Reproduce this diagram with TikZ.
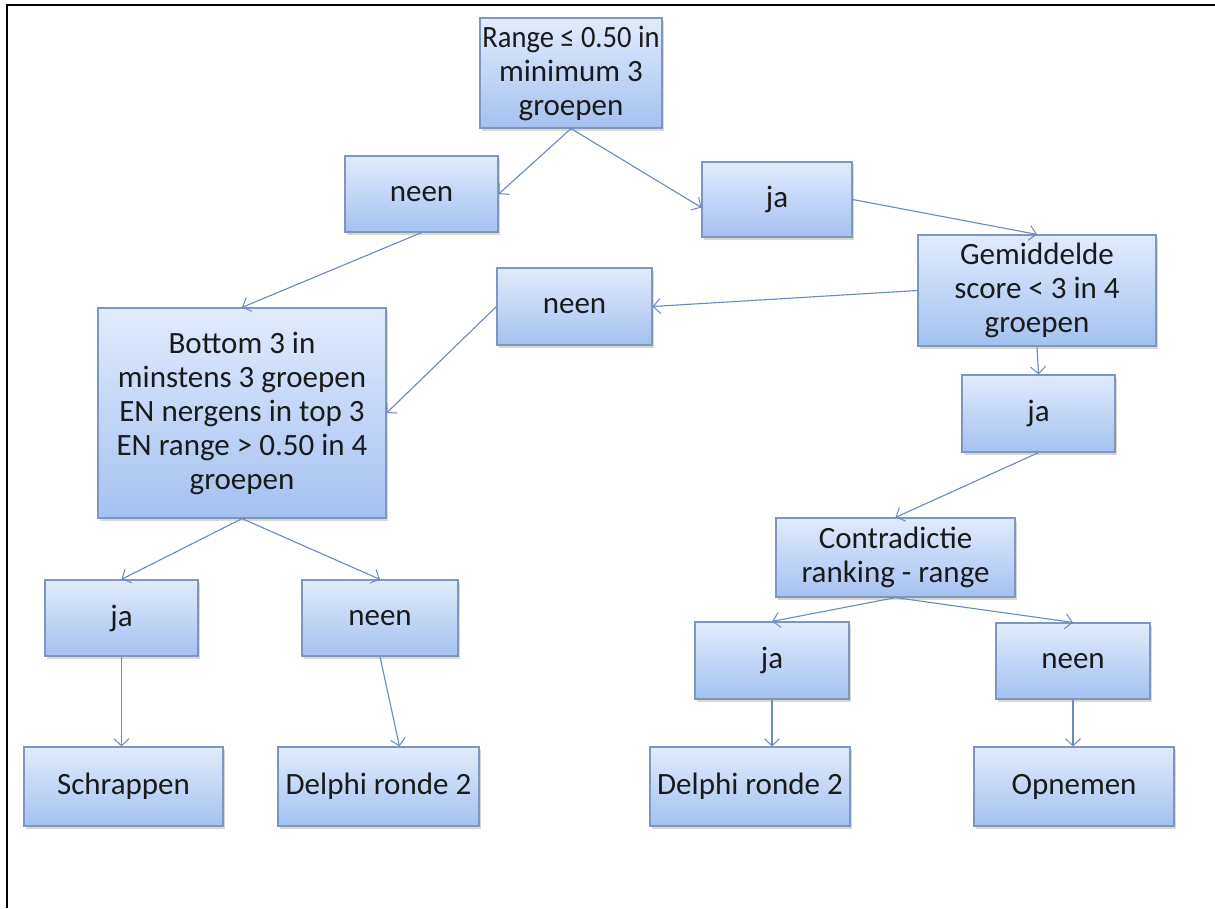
\documentclass[tikz,border=0pt]{standalone}
\usepackage{fontspec}
\usepackage{graphicx}
\setmainfont{Carlito}
\usetikzlibrary{arrows.meta,shadows,calc}
\definecolor{boxtop}{HTML}{E2EBFC}
\definecolor{boxbot}{HTML}{A4C1F1}
\definecolor{boxline}{HTML}{7F97BC}
\definecolor{arr}{HTML}{6A8BBE}
\definecolor{txt}{HTML}{1A1A1A}
\tikzset{
  box/.style={rectangle, draw=boxline, line width=1.2pt, top color=boxtop, bottom color=boxbot,
    align=center, text=txt, inner sep=0pt,
    font=\fontsize{31}{34}\selectfont,
    drop shadow={opacity=0.3, shadow xshift=2pt, shadow yshift=-2.5pt}},
  conn/.style={draw=arr, line width=1.1pt, -{Straight Barb[length=7pt,width=15pt,line width=1pt]}},
}
\begin{document}
\begin{tikzpicture}[x=1pt,y=-1pt]
\useasboundingbox (0,0) rectangle (1215,908);
\fill[white] (0,0) rectangle (1215,908);
\draw[black, line width=2.6pt] (7,908) -- (7,5) -- (1215,5);

\node[box, minimum width=182pt, minimum height=110pt] (top) at (571,73) {\scalebox{0.92}[1]{Range ≤ 0.50 in}\\minimum 3\\groepen};
\node[box, minimum width=153pt, minimum height=76pt] (neen1) at (421.5,194) {neen};
\node[box, minimum width=150pt, minimum height=75pt] (ja1) at (777,199.5) {ja};
\node[box, minimum width=238pt, minimum height=111pt] (gem) at (1037,290.5) {Gemiddelde\\score < 3 in 4\\groepen};
\node[box, minimum width=155pt, minimum height=77pt] (neen2) at (574.5,306.5) {neen};
\node[box, minimum width=288pt, minimum height=210pt] (b3) at (242,413) {Bottom 3 in\\minstens 3 groepen\\EN nergens in top 3\\EN range > 0.50 in 4\\groepen};
\node[box, minimum width=153pt, minimum height=77pt] (ja2) at (1038.5,413.5) {ja};
\node[box, minimum width=239pt, minimum height=79pt] (contr) at (895.5,557.5) {Contradictie\\ranking - range};
\node[box, minimum width=153pt, minimum height=76pt] (ja3) at (121.5,618) {ja};
\node[box, minimum width=156pt, minimum height=76pt] (neen3) at (380,618) {neen};
\node[box, minimum width=154pt, minimum height=77pt] (ja4) at (772,660.5) {ja};
\node[box, minimum width=154pt, minimum height=76pt] (neen4) at (1073,661) {neen};
\node[box, minimum width=199pt, minimum height=79pt] (schr) at (123.5,786.5) {Schrappen};
\node[box, minimum width=201pt, minimum height=79pt] (d1) at (378.5,786.5) {Delphi ronde 2};
\node[box, minimum width=200pt, minimum height=79pt] (d2) at (750,786.5) {Delphi ronde 2};
\node[box, minimum width=200pt, minimum height=79pt] (op) at (1074,786.5) {Opnemen};

\draw[conn] (top.south) -- (neen1.east);
\draw[conn] (top.south) -- ($(ja1.west)+(0,8)$);
\draw[conn] (ja1.east) -- (gem.north);
\draw[conn] (neen1.south) -- (b3.north);
\draw[conn] (gem.west) -- (neen2.east);
\draw[conn] (neen2.west) -- (b3.east);
\draw[conn] (gem.south) -- (ja2.north);
\draw[conn] (ja2.south) -- (contr.north);
\draw[conn] (b3.south) -- (ja3.north);
\draw[conn] (b3.south) -- (neen3.north);
\draw[conn] (contr.south) -- (ja4.north);
\draw[conn] (contr.south) -- (neen4.north);
\draw[conn] (ja3.south) -- (ja3.south |- schr.north);
\draw[conn] (neen3.south) -- ($(d1.north)+(21,0)$);
\draw[conn] (ja4.south) -- (ja4.south |- d2.north);
\draw[conn] (neen4.south) -- (neen4.south |- op.north);
\end{tikzpicture}
\end{document}
